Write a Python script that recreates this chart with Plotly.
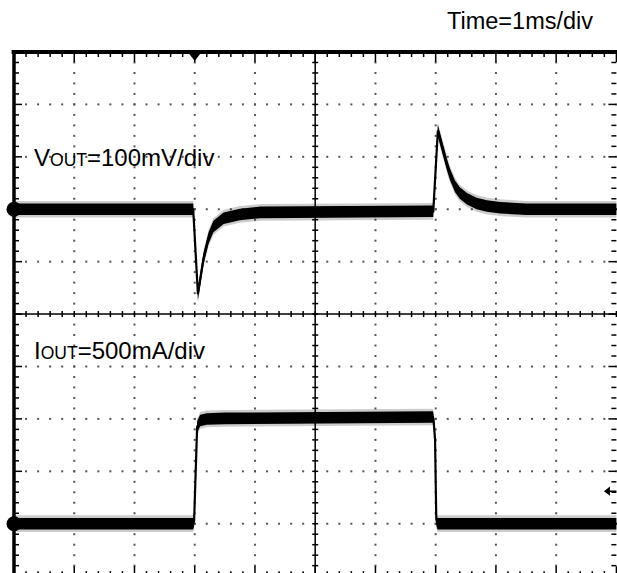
import plotly.graph_objects as go

# scope screen: 10 div across (1 ms/div), 10 div high, centre at 0
# VOUT channel, 100 mV/div, ground marker 2 div above centre
vout_t = [0.0, 2.975, 3.053, 3.09, 3.146, 3.23, 3.31, 3.48, 3.75, 4.09, 5.5, 6.96,
          7.036, 7.074, 7.13, 7.19, 7.24, 7.32, 7.40, 7.52, 7.68, 7.85, 8.07, 8.5, 10.0]
vout_mv = [0, 0, -162, -137, -94, -55, -33, -17, -10, -6, -5, -4,
           150, 133, 107, 84, 66, 44, 31, 20, 11, 6, 3, 0, 0]

# IOUT channel, 500 mA/div, ground marker 4 div below centre
iout_t = [0.0, 2.975, 2.99, 3.04, 3.09, 3.2, 3.5, 5.0, 6.955, 6.965, 6.99, 7.01, 7.03, 10.0]
iout_ma = [0, 0, 30, 922, 985, 1000, 1005, 1012, 1018, 990, 798, 40, 0, 0]

VOUT_SCALE, VOUT_OFFSET = 100.0, 2.0
IOUT_SCALE, IOUT_OFFSET = 500.0, -4.0
TRIG_TIME = 3.0
TRIG_LEVEL_MA = 310

PX_X, PX_Y = 60.25, 52.4   # pixels per division
HW = 0.11                  # half thickness of noisy trace (div)
FONT = "Liberation Sans, Arial, sans-serif"

vout_pos = [VOUT_OFFSET + v / VOUT_SCALE for v in vout_mv]
iout_pos = [IOUT_OFFSET + i / IOUT_SCALE for i in iout_ma]

fig = go.Figure()

# dotted graticule
dx, dy = [], []
for i in range(1, 10):
    if i == 5:
        continue
    for k in range(51):
        dx.append(i); dy.append(-5 + 0.2 * k)
for j in range(-4, 5):
    if j == 0:
        continue
    for k in range(51):
        dx.append(0.2 * k); dy.append(j)
fig.add_trace(go.Scatter(x=dx, y=dy, mode="markers", hoverinfo="skip",
                         marker=dict(symbol="square", size=2, color="#555", line=dict(width=0))))

# centre cross and border ticks
sx, sy = [], []
def seg(x0, y0, x1, y1):
    sx.extend([x0, x1, None]); sy.extend([y0, y1, None])

seg(5, -5, 5, 5)
seg(0, 0, 10, 0)
for k in range(51):
    x = 0.2 * k
    major = k % 5 == 0
    ln = (10 if major else 5) / PX_Y
    seg(x, 5, x, 5 - ln)
    seg(x, -5, x, -5 + ln)
    seg(x, -3 / PX_Y, x, 3 / PX_Y)
for k in range(51):
    y = -5 + 0.2 * k
    major = k % 5 == 0
    ln = (8 if major else 5) / PX_X
    seg(0, y, ln, y)
    seg(10, y, 10 - ln, y)
    seg(5 - 3 / PX_X, y, 5 + 3 / PX_X, y)
fig.add_trace(go.Scatter(x=sx, y=sy, mode="lines", hoverinfo="skip",
                         line=dict(color="black", width=1.5)))

# noisy traces drawn as a band around the centre line
def add_band(t, pos):
    for hw, col in ((HW * 1.45, "rgba(0,0,0,0.2)"), (HW, "black")):
        fig.add_trace(go.Scatter(x=t, y=[p + hw for p in pos], mode="lines",
                                 line=dict(width=0), hoverinfo="skip"))
        fig.add_trace(go.Scatter(x=t, y=[p - hw for p in pos], mode="lines",
                                 line=dict(width=0), fill="tonexty", fillcolor=col,
                                 hoverinfo="skip"))
    fig.add_trace(go.Scatter(x=t, y=pos, mode="lines", hoverinfo="skip",
                             line=dict(color="black", width=2.2)))

add_band(vout_t, vout_pos)
add_band(iout_t, iout_pos)

# channel ground markers, trigger position and level markers
fig.add_trace(go.Scatter(x=[0, 0], y=[VOUT_OFFSET, IOUT_OFFSET], mode="markers",
                         cliponaxis=False, hoverinfo="skip",
                         marker=dict(symbol="circle", size=15, color="black")))
fig.add_trace(go.Scatter(x=[TRIG_TIME], y=[5 - 4 / PX_Y], mode="markers",
                         cliponaxis=False, hoverinfo="skip",
                         marker=dict(symbol="triangle-down", size=10, color="black")))
trig_y = IOUT_OFFSET + TRIG_LEVEL_MA / IOUT_SCALE
fig.add_trace(go.Scatter(x=[9.84, 10], y=[trig_y, trig_y], mode="lines",
                         hoverinfo="skip", line=dict(color="black", width=1.5)))
fig.add_trace(go.Scatter(x=[9.86], y=[trig_y], mode="markers", cliponaxis=False,
                         hoverinfo="skip",
                         marker=dict(symbol="triangle-left", size=8, color="black")))

# frame: only the top and left edges fall inside the picture
fig.add_shape(type="line", xref="paper", yref="paper", x0=-0.004, x1=1.0, y0=1, y1=1,
              line=dict(color="black", width=4))
fig.add_shape(type="line", xref="paper", yref="paper", x0=0, x1=0, y0=-0.02, y1=1.004,
              line=dict(color="black", width=3.5))

sc = '<span style="font-size:17.5px">OUT</span>'
fig.add_annotation(x=0.3, y=2.98, xref="x", yref="y", text="V" + sc + "=100mV/div",
                   showarrow=False, xanchor="left", yanchor="middle",
                   font=dict(family=FONT, size=24, color="black"))
fig.add_annotation(x=0.3, y=-0.69, xref="x", yref="y", text="I" + sc + "=500mA/div",
                   showarrow=False, xanchor="left", yanchor="middle",
                   font=dict(family=FONT, size=24, color="black"))
fig.add_annotation(x=0.964, y=1.0595, xref="paper", yref="paper", text="Time=1ms/div",
                   showarrow=False, xanchor="right", yanchor="middle",
                   font=dict(family=FONT, size=23.5, color="black"))

fig.update_xaxes(range=[0, 10.01], visible=False, fixedrange=True)
fig.update_yaxes(range=[-4.94, 5], visible=False, fixedrange=True)
fig.update_layout(
    width=617, height=573,
    margin=dict(l=14, r=0, t=52, b=0),
    paper_bgcolor="white", plot_bgcolor="white",
    showlegend=False,
)

# drop the page margin so the figure fills the window exactly
fig.write_html("out.html", config={"displayModeBar": False}, post_script=(
    "document.body.style.margin='0';"
    "document.body.style.overflow='hidden';"
    "document.documentElement.style.overflow='hidden';"))
